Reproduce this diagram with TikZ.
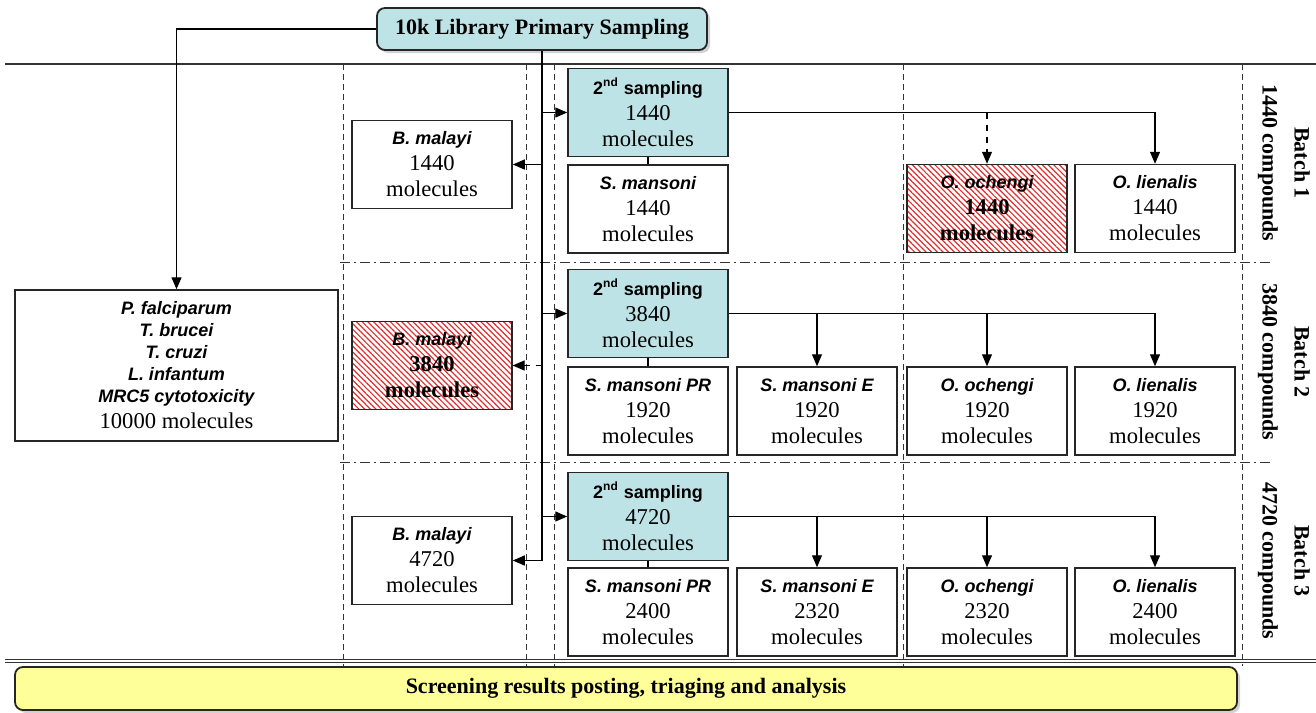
\documentclass[tikz,border=0pt]{standalone}
\usepackage{fontspec}
\setmainfont{Liberation Serif}
\setsansfont{Liberation Sans}
\usetikzlibrary{arrows.meta}
\usetikzlibrary{patterns.meta}
\usetikzlibrary{shadows}
\usetikzlibrary{calc}

\definecolor{sampteal}{RGB}{189,227,230}
\definecolor{resyellow}{RGB}{255,255,153}
\definecolor{hatchred}{RGB}{225,45,45}

\newcommand{\spec}[1]{{\fontsize{9}{13}\selectfont\sffamily\bfseries\itshape #1}}
\newcommand{\samphead}{{\fontsize{9}{13}\selectfont\sffamily\bfseries 2\textsuperscript{nd} sampling}}

\tikzset{
  box/.style={draw=black!85, line width=0.75pt, fill=white, minimum width=80pt,
    minimum height=44pt, inner sep=0pt, align=center, font=\fontsize{11.3}{13}\selectfont},
  sampbox/.style={box, fill=sampteal},
  hatchbox/.style={box, pattern={Lines[angle=-45,distance=2pt,line width=0.6pt]},
    pattern color=hatchred},
  arr/.style={-{Triangle[length=6pt,width=5pt]}, line width=0.6pt},
  link/.style={line width=0.6pt},
  divline/.style={black!80, line width=0.5pt, dash pattern=on 3pt off 2pt},
  batchline/.style={black!80, line width=0.5pt, dash pattern=on 5pt off 2pt on 1pt off 2pt},
  banner/.style={draw=black!85, line width=0.9pt, rounded corners=4pt, inner sep=0pt,
    font=\fontsize{11}{13}\selectfont\bfseries,
    drop shadow={shadow xshift=1.5pt, shadow yshift=-1.5pt, fill=black!35}},
  batchlab/.style={rotate=-90, align=center, font=\fontsize{11}{13}\selectfont\bfseries}
}

\begin{document}
\begin{tikzpicture}[x=0.5pt, y=-0.5pt]
  \useasboundingbox (0,0) rectangle (1316,712);

  \draw[black!80, line width=0.7pt] (5,64) -- (1316,64);
  \draw[black!80, line width=0.6pt] (5,659.5) -- (1316,659.5);
  \draw[black!80, line width=0.6pt] (5,662.5) -- (1316,662.5);
  \foreach \x in {343,526,554,903,1242}
    \draw[divline] (\x,64) -- (\x,666);
  \foreach \y in {262,462}
    \draw[batchline] (340,\y) -- (1272,\y);

  \node[banner, fill=sampteal, minimum width=165pt, minimum height=21pt] (lib) at (542,29)
    {10k Library Primary Sampling};
  \node[banner, fill=resyellow, minimum width=611pt, minimum height=21.5pt] (results) at (626,688.5)
    {Screening results posting, triaging and analysis};

  \node[box, minimum width=161.5pt, minimum height=75.5pt] (screen) at (176.5,365.5)
    {\spec{P. falciparum}\\[-2pt]\spec{T. brucei}\\[-2pt]\spec{T. cruzi}\\[-2pt]
     \spec{L. infantum}\\[-2pt]\spec{MRC5 cytotoxicity}\\10000 molecules};

  \node[box] (bm1) at (432,164.5) {\spec{B. malayi}\\1440\\molecules};
  \node[hatchbox] (bm2) at (432,365.5) {\spec{B. malayi}\\\textbf{3840}\\\textbf{molecules}};
  \node[box] (bm3) at (432,560.5) {\spec{B. malayi}\\4720\\molecules};

  \node[sampbox] (samp1) at (648,112.5) {\samphead\\1440\\molecules};
  \node[sampbox] (samp2) at (648,313.5) {\samphead\\3840\\molecules};
  \node[sampbox] (samp3) at (648,516.5) {\samphead\\4720\\molecules};

  \node[box] (sm1) at (648,209) {\spec{S. mansoni}\\1440\\molecules};
  \node[box] (sm2) at (648,411) {\spec{S. mansoni PR}\\1920\\molecules};
  \node[box] (sm3) at (648,612) {\spec{S. mansoni PR}\\2400\\molecules};
  \node[box] (se2) at (817,411) {\spec{S. mansoni E}\\1920\\molecules};
  \node[box] (se3) at (817,612) {\spec{S. mansoni E}\\2320\\molecules};

  \node[hatchbox] (oo1) at (987,208.5) {\spec{O. ochengi}\\\textbf{1440}\\\textbf{molecules}};
  \node[box] (oo2) at (987,411) {\spec{O. ochengi}\\1920\\molecules};
  \node[box] (oo3) at (987,612) {\spec{O. ochengi}\\2320\\molecules};
  \node[box] (ol1) at (1155,208.5) {\spec{O. lienalis}\\1440\\molecules};
  \node[box] (ol2) at (1155,411) {\spec{O. lienalis}\\1920\\molecules};
  \node[box] (ol3) at (1155,612) {\spec{O. lienalis}\\2400\\molecules};

  \node[batchlab] (batch1) at (1284,163) {Batch 1\\[3pt]1440 compounds};
  \node[batchlab] (batch2) at (1284,362) {Batch 2\\[3pt]3840 compounds};
  \node[batchlab] (batch3) at (1284,561) {Batch 3\\[3pt]4720 compounds};

  \draw[arr] (lib.west) -| (screen.north);
  \draw[arr] (lib.south) |- (bm3.east);
  \foreach \i in {1,2,3}
    \draw[arr] (lib.south |- samp\i.west) -- (samp\i.west);
  \draw[arr] (lib.south |- bm1.east) -- (bm1.east);
  \draw[arr, dashed] (lib.south |- bm2.east) -- (bm2.east);
  \foreach \i in {1,2,3}
    \draw[link] (samp\i.south) -- (sm\i.north);

  \draw[arr] (samp1.east) -| (ol1.north);
  \draw[arr, dashed] (samp1.east -| oo1.north) -- (oo1.north);
  \foreach \i in {2,3} {
    \draw[arr] (samp\i.east) -| (ol\i.north);
    \draw[arr] (samp\i.east -| se\i.north) -- (se\i.north);
    \draw[arr] (samp\i.east -| oo\i.north) -- (oo\i.north);
  }
\end{tikzpicture}
\end{document}
